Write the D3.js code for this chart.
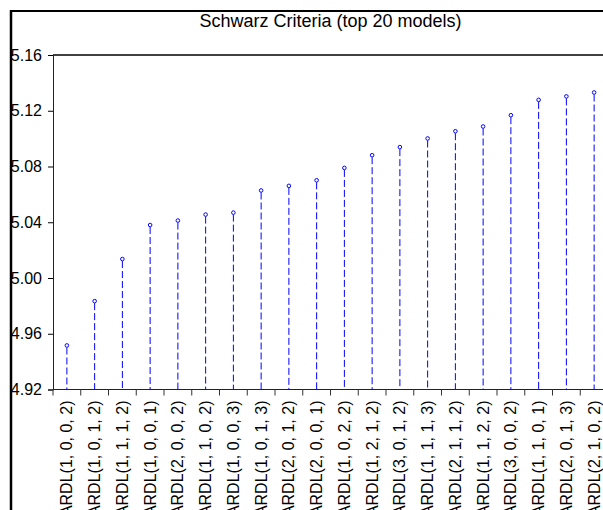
<head>
	<style>
		body { margin: 0; padding: 0; background: #fff; }
		svg { display: block; font-family: "Liberation Sans", Arial, sans-serif; }
	</style>
	<script src="https://cdnjs.cloudflare.com/ajax/libs/d3/7.8.5/d3.min.js"></script>
</head>
<body>
	<svg width="603" height="510"></svg>
</body>
<script>
	const models = [
		'ARDL(1, 0, 0, 2)', 'ARDL(1, 0, 1, 2)', 'ARDL(1, 1, 1, 2)', 'ARDL(1, 0, 0, 1)',
		'ARDL(2, 0, 0, 2)', 'ARDL(1, 1, 0, 2)', 'ARDL(1, 0, 0, 3)', 'ARDL(1, 0, 1, 3)',
		'ARDL(2, 0, 1, 2)', 'ARDL(2, 0, 0, 1)', 'ARDL(1, 0, 2, 2)', 'ARDL(1, 2, 1, 2)',
		'ARDL(3, 0, 1, 2)', 'ARDL(1, 1, 1, 3)', 'ARDL(2, 1, 1, 2)', 'ARDL(1, 1, 2, 2)',
		'ARDL(3, 0, 0, 2)', 'ARDL(1, 1, 0, 1)', 'ARDL(2, 0, 1, 3)', 'ARDL(2, 1, 0, 2)'
	];
	const schwarz = [
		4.9516, 4.9834, 5.0136, 5.0380, 5.0412, 5.0455, 5.0469, 5.0628, 5.0661, 5.0701,
		5.0790, 5.0881, 5.0939, 5.1001, 5.1053, 5.1087, 5.1168, 5.1278, 5.1303, 5.1331
	];
	const yTicks = [4.92, 4.96, 5.00, 5.04, 5.08, 5.12, 5.16];
	const title = 'Schwarz Criteria (top 20 models)';

	function draw() {
		const svg = d3.select('svg');
		const left = 53, top = 55, bottom = 389.5, right = 608;

		const x = d3.scaleBand().domain(models).range([left, right]).padding(0);
		const y = d3.scaleLinear().domain([4.92, 5.16]).range([bottom, top]);

		// outer frame (cropped on right and bottom)
		svg.append('line').attr('x1', 11).attr('x2', 11).attr('y1', 10).attr('y2', 510)
			.attr('stroke', '#000').attr('stroke-width', 2.5);
		svg.append('line').attr('x1', 10).attr('x2', 603).attr('y1', 11).attr('y2', 11)
			.attr('stroke', '#000').attr('stroke-width', 2);

		svg.append('text')
			.attr('x', (left + right) / 2).attr('y', 27)
			.attr('text-anchor', 'middle').attr('font-size', 18)
			.text(title);

		// plot frame top
		svg.append('line').attr('x1', left).attr('x2', 603).attr('y1', top).attr('y2', top)
			.attr('stroke', '#000').attr('stroke-width', 1.5);

		const yAxis = svg.append('g').attr('transform', `translate(${left},0)`)
			.call(d3.axisLeft(y).tickValues(yTicks).tickFormat(d3.format('.2f')).tickSize(5).tickPadding(6));
		yAxis.select('.domain').attr('stroke', '#222');
		yAxis.selectAll('text').attr('font-size', 16).attr('fill', '#000').attr('font-family', null);

		// x axis: ticks on category boundaries
		const xAxis = svg.append('g').attr('transform', `translate(0,${bottom})`);
		xAxis.append('line').attr('x1', left).attr('x2', 603).attr('stroke', '#222');
		xAxis.selectAll('.tk').data(models).enter().append('line')
			.attr('x1', d => x(d)).attr('x2', d => x(d))
			.attr('y1', 0).attr('y2', 6).attr('stroke', '#333');
		xAxis.selectAll('.lbl').data(models).enter().append('text')
			.attr('transform', d => `translate(${x(d) + x.bandwidth() / 2},11) rotate(-90)`)
			.attr('text-anchor', 'end').attr('dy', '0.35em').attr('font-size', 16)
			.text(d => d);

		const stems = svg.append('g');
		stems.selectAll('line').data(schwarz).enter().append('line')
			.attr('x1', (d, i) => x(models[i]) + x.bandwidth() / 2)
			.attr('x2', (d, i) => x(models[i]) + x.bandwidth() / 2)
			.attr('y1', d => y(d) + 2).attr('y2', bottom)
			.attr('stroke', '#0000ff').attr('stroke-width', 1)
			.attr('stroke-dasharray', '7,3');
		stems.selectAll('circle').data(schwarz).enter().append('circle')
			.attr('cx', (d, i) => x(models[i]) + x.bandwidth() / 2)
			.attr('cy', d => y(d))
			.attr('r', 1.8)
			.attr('fill', '#fff').attr('stroke', '#0000ff').attr('stroke-width', 1);
	}
	document.addEventListener('DOMContentLoaded', draw, false);
</script>
